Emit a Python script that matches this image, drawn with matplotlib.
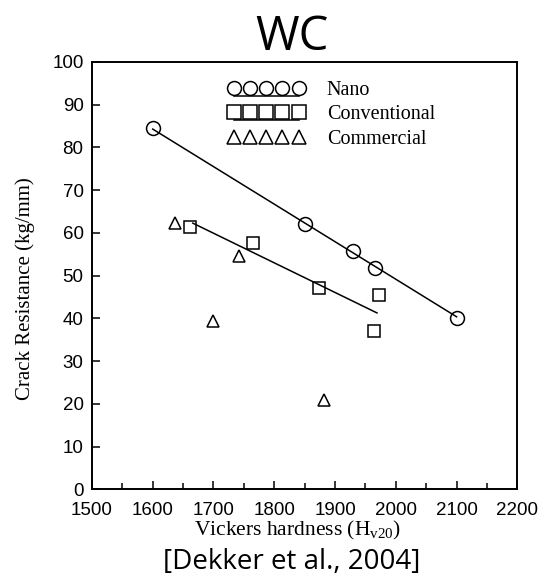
import matplotlib
matplotlib.use('Agg')
import matplotlib.pyplot as plt
from matplotlib.legend_handler import HandlerLine2DCompound
from matplotlib.ticker import MultipleLocator

nano_hv = [1600, 1850, 1930, 1965, 2100]
nano_cr = [84.6, 62.0, 55.8, 51.8, 40.1]

conv_hv = [1661, 1765, 1874, 1972, 1964]
conv_cr = [61.3, 57.7, 47.1, 45.4, 37.1]

comm_hv = [1637, 1742, 1700, 1882]
comm_cr = [62.4, 54.6, 39.4, 20.9]

# fitted trend lines (end points)
nano_fit_hv = [1600, 2100]
nano_fit_cr = [84.3, 40.4]
conv_fit_hv = [1666, 1969]
conv_fit_cr = [62.3, 41.3]

x_ticks = [1500, 1600, 1700, 1800, 1900, 2000, 2100, 2200]
y_ticks = [0, 10, 20, 30, 40, 50, 60, 70, 80, 90, 100]


# legend handler: markers with the trend line drawn under them
class UnderlineHandler(HandlerLine2DCompound):
    def create_artists(self, legend, orig_handle, xdescent, ydescent,
                       width, height, fontsize, trans):
        arts = super().create_artists(legend, orig_handle, xdescent, ydescent,
                                      width, height, fontsize, trans)
        line = arts[0]
        line.set_ydata([y - 5.8 for y in line.get_ydata()])
        return arts


# 2. PLOT
fig = plt.figure(figsize=(5.44, 5.79), dpi=100)
ax = fig.add_axes([0.169, 0.1546, 0.782, 0.7384])

mk = dict(linestyle='none', markerfacecolor='none', markeredgecolor='black',
          markeredgewidth=1.1)
ax.plot(nano_hv, nano_cr, marker='o', markersize=10, **mk)
ax.plot(conv_hv, conv_cr, marker='s', markersize=8.5, **mk)
ax.plot(comm_hv, comm_cr, marker='^', markersize=8.5, **mk)

ax.plot(nano_fit_hv, nano_fit_cr, color='black', linewidth=1.1)
ax.plot(conv_fit_hv, conv_fit_cr, color='black', linewidth=1.1)

# proxy handles for the legend (line + markers)
leg_nano, = ax.plot([], [], marker='o', markersize=10, color='black',
                    markerfacecolor='none', markeredgewidth=1.1, linewidth=1.1)
leg_conv, = ax.plot([], [], marker='s', markersize=9.5, color='black',
                    markerfacecolor='none', markeredgewidth=1.1, linewidth=1.1)
leg_comm, = ax.plot([], [], marker='^', markersize=10, **mk)

ax.legend([leg_nano, leg_conv, leg_comm], ['Nano', 'Conventional', 'Commercial'],
          handler_map={leg_nano: UnderlineHandler(), leg_conv: UnderlineHandler()},
          loc='upper left', bbox_to_anchor=(0.32, 0.955), frameon=False,
          numpoints=5, handlelength=3.8, handletextpad=1.1, labelspacing=0.25,
          borderpad=0, borderaxespad=0,
          prop={'family': 'Liberation Serif', 'size': 14.5})

ax.set_xlim(1500, 2200)
ax.set_ylim(0, 100)
ax.set_xticks(x_ticks)
ax.set_yticks(y_ticks)
ax.xaxis.set_minor_locator(MultipleLocator(50))

for lab in ax.get_xticklabels() + ax.get_yticklabels():
    lab.set_fontfamily('Liberation Sans')
    lab.set_fontsize(13.5)

ax.tick_params(which='major', direction='in', length=6, width=1.1, pad=6)
ax.tick_params(which='minor', direction='in', length=4, width=1.1)
ax.tick_params(axis='x', which='major', pad=9)

for s in ax.spines.values():
    s.set_linewidth(1.4)

ax.set_xlabel('Vickers hardness (H$_{\\mathregular{v20}}$)', family='Liberation Serif',
              fontsize=15.5, labelpad=0)
ax.xaxis.label.set_x(0.484)
ax.set_ylabel('Crack Resistance (kg/mm)', family='Liberation Serif', fontsize=15)
ax.yaxis.set_label_coords(-0.134, 0.469)

fig.text(0.537, 0.936, 'WC', family='Open Sans', fontsize=34,
         ha='center', va='center')
fig.text(0.537, 0.030, '[Dekker et al., 2004]', family='Open Sans', fontsize=20,
         ha='center', va='center')

fig.savefig('out.png', dpi=100)
print("Graph generated.")
